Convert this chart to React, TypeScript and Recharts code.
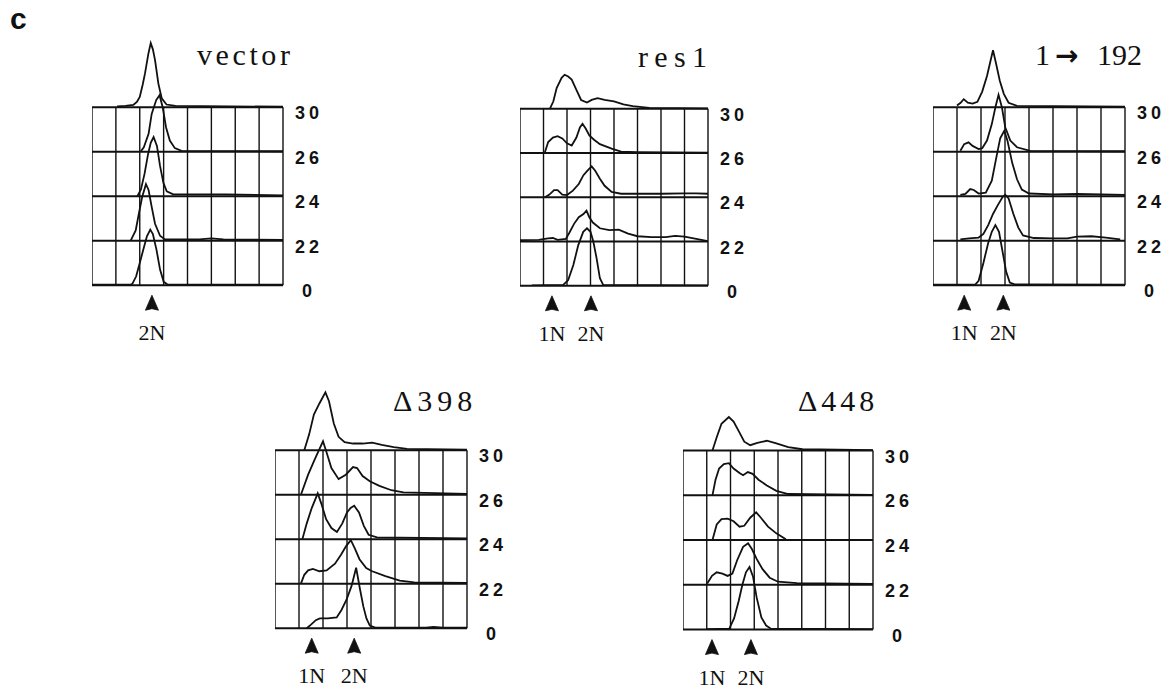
import { LineChart, Line, XAxis, YAxis, ReferenceLine } from "recharts";

// row labels (bottom to top) shared by every panel
const rowLabels = ["0", "22", "24", "26", "30"];
const rows = [0, 1, 2, 3, 4];
const columns = [0, 1, 2, 3, 4, 5, 6, 7, 8];

// traces: [channel in grid columns, height in grid rows], bottom trace first
const vector0 = [[0, 0.01], [1.6, 0.01], [1.69, 0.03], [1.85, 0.2], [2.0, 0.5], [2.15, 0.8], [2.3, 1.1], [2.44, 1.25], [2.55, 1.15], [2.7, 0.8], [2.85, 0.35], [3.0, 0.08], [3.15, 0.02], [8, 0.01]];
const vector1 = [[1.62, 0], [1.83, 0.23], [1.96, 0.6], [2.1, 0.98], [2.26, 1.27], [2.37, 1.14], [2.5, 0.76], [2.64, 0.38], [2.85, 0.11], [3.05, 0.03], [4.5, 0.03], [5.0, 0.05], [5.5, 0.03], [8, 0.02]];
const vector2 = [[1.9, 0], [2.05, 0.15], [2.2, 0.5], [2.35, 0.95], [2.46, 1.2], [2.58, 1.33], [2.72, 1.13], [2.85, 0.68], [2.99, 0.3], [3.13, 0.11], [3.4, 0.04], [5.6, 0.04], [8, 0.02]];
const vector3 = [[2.03, 0], [2.17, 0.1], [2.37, 0.4], [2.5, 0.85], [2.69, 1.16], [2.83, 1.27], [2.96, 1.0], [3.1, 0.55], [3.26, 0.25], [3.47, 0.08], [3.75, 0.02], [8, 0.01]];
const vector4 = [[1.05, 0.02], [1.4, 0.03], [1.73, 0.05], [1.88, 0.12], [2.0, 0.23], [2.12, 0.5], [2.22, 0.76], [2.36, 1.2], [2.46, 1.44], [2.55, 1.3], [2.64, 1.06], [2.78, 0.53], [2.92, 0.2], [3.12, 0.06], [3.5, 0.03], [8, 0.01]];

const res1_0 = [[0.5, 0.01], [1.84, 0.02], [2.05, 0.13], [2.27, 0.47], [2.48, 0.92], [2.69, 1.22], [2.85, 1.3], [3.0, 1.22], [3.12, 1.0], [3.26, 0.62], [3.4, 0.17], [3.54, 0.02], [8, 0.01]];
const res1_1 = [[0, 0.03], [0.8, 0.04], [1.2, 0.07], [1.4, 0.08], [1.6, 0.04], [1.95, 0.06], [2.1, 0.2], [2.3, 0.4], [2.5, 0.55], [2.7, 0.62], [2.83, 0.7], [2.95, 0.55], [3.1, 0.43], [3.4, 0.3], [3.8, 0.26], [4.2, 0.27], [4.6, 0.18], [5.0, 0.12], [5.6, 0.1], [6.2, 0.1], [6.6, 0.13], [7.0, 0.11], [7.5, 0.06], [8, 0.01]];
const res1_2 = [[1.06, 0], [1.25, 0.06], [1.45, 0.16], [1.6, 0.16], [1.8, 0.06], [2.0, 0.05], [2.25, 0.15], [2.5, 0.3], [2.7, 0.5], [2.9, 0.62], [3.05, 0.7], [3.2, 0.6], [3.4, 0.42], [3.6, 0.26], [3.9, 0.12], [4.3, 0.08], [5, 0.08], [6, 0.08], [7, 0.09], [7.5, 0.09], [8, 0.08]];
const res1_3 = [[1.06, 0.02], [1.2, 0.25], [1.4, 0.35], [1.6, 0.38], [1.8, 0.33], [2.0, 0.22], [2.2, 0.17], [2.4, 0.35], [2.55, 0.58], [2.66, 0.66], [2.8, 0.55], [2.95, 0.4], [3.15, 0.3], [3.4, 0.2], [3.9, 0.1], [4.3, 0.03], [5, 0.02], [8, 0.01]];
const res1_4 = [[1.27, 0], [1.42, 0.17], [1.56, 0.47], [1.77, 0.7], [1.9, 0.77], [2.05, 0.73], [2.2, 0.66], [2.4, 0.43], [2.6, 0.2], [2.85, 0.14], [3.05, 0.2], [3.3, 0.24], [3.6, 0.2], [4.0, 0.17], [4.4, 0.1], [4.8, 0.06], [5.5, 0.02], [8, 0.01]];

const r192_0 = [[0, 0.01], [1.75, 0.01], [1.9, 0.1], [2.1, 0.5], [2.3, 0.95], [2.45, 1.2], [2.6, 1.35], [2.75, 1.2], [2.9, 0.75], [3.05, 0.3], [3.2, 0.06], [3.4, 0.02], [8, 0.01]];
const r192_1 = [[1.14, 0.03], [1.5, 0.05], [1.9, 0.07], [2.1, 0.15], [2.3, 0.35], [2.5, 0.6], [2.7, 0.8], [2.9, 0.98], [3.01, 1.03], [3.15, 0.95], [3.35, 0.6], [3.55, 0.3], [3.75, 0.12], [4.2, 0.06], [5, 0.05], [5.6, 0.05], [6.0, 0.09], [6.6, 0.1], [7.2, 0.07], [7.8, 0.03]];
const r192_2 = [[1.14, 0.03], [1.35, 0.05], [1.55, 0.16], [1.7, 0.14], [1.9, 0.06], [2.2, 0.08], [2.45, 0.35], [2.65, 0.9], [2.8, 1.3], [2.97, 1.47], [3.1, 1.25], [3.3, 0.75], [3.5, 0.38], [3.7, 0.15], [4.0, 0.06], [5, 0.04], [6, 0.05], [8, 0.03]];
const r192_3 = [[1.14, 0.02], [1.3, 0.17], [1.48, 0.21], [1.65, 0.13], [1.9, 0.06], [2.05, 0.08], [2.25, 0.25], [2.45, 0.62], [2.6, 1.0], [2.73, 1.28], [2.87, 1.0], [3.01, 0.55], [3.22, 0.25], [3.5, 0.1], [4.05, 0.02], [8, 0.01]];
const r192_4 = [[1.0, 0.04], [1.15, 0.1], [1.28, 0.18], [1.45, 0.1], [1.65, 0.08], [1.85, 0.12], [2.05, 0.35], [2.25, 0.7], [2.4, 1.05], [2.5, 1.28], [2.62, 1.0], [2.78, 0.6], [2.95, 0.3], [3.15, 0.1], [3.5, 0.03], [8, 0.01]];

const d398_0 = [[1.32, 0], [1.5, 0.08], [1.7, 0.18], [1.87, 0.22], [2.2, 0.22], [2.57, 0.24], [2.77, 0.41], [2.98, 0.64], [3.19, 0.95], [3.38, 1.36], [3.54, 0.88], [3.68, 0.49], [3.81, 0.22], [3.95, 0.06], [4.2, 0.01], [6.3, 0.01], [6.6, 0.03], [7, 0.01], [8, 0.01]];
const d398_1 = [[1.08, 0], [1.22, 0.2], [1.38, 0.3], [1.58, 0.33], [1.85, 0.28], [2.15, 0.3], [2.5, 0.45], [2.75, 0.65], [2.97, 0.85], [3.16, 0.98], [3.32, 0.8], [3.52, 0.55], [3.8, 0.35], [4.05, 0.28], [4.6, 0.17], [5.2, 0.07], [5.8, 0.03], [8, 0.02]];
const d398_2 = [[1.14, 0], [1.32, 0.35], [1.53, 0.7], [1.78, 1.03], [1.93, 0.8], [2.13, 0.45], [2.35, 0.25], [2.58, 0.16], [2.8, 0.35], [3.0, 0.6], [3.15, 0.7], [3.3, 0.75], [3.5, 0.6], [3.7, 0.3], [3.9, 0.1], [4.25, 0.04], [8, 0.02]];
const d398_3 = [[1.08, 0], [1.38, 0.45], [1.66, 0.8], [2.0, 1.2], [2.15, 0.95], [2.35, 0.6], [2.65, 0.35], [2.95, 0.45], [3.25, 0.62], [3.42, 0.6], [3.65, 0.42], [3.95, 0.3], [4.35, 0.2], [4.85, 0.1], [5.35, 0.05], [8, 0.02]];
const d398_4 = [[1.22, 0], [1.42, 0.35], [1.62, 0.8], [1.85, 1.05], [2.1, 1.3], [2.25, 1.1], [2.45, 0.6], [2.65, 0.3], [2.9, 0.18], [3.25, 0.15], [3.65, 0.15], [4.05, 0.17], [4.45, 0.12], [4.95, 0.07], [5.5, 0.03], [8, 0.01]];

const d448_0 = [[1.0, 0.01], [1.95, 0.02], [2.15, 0.25], [2.35, 0.65], [2.5, 1.0], [2.65, 1.28], [2.8, 1.4], [2.95, 1.18], [3.1, 0.72], [3.3, 0.27], [3.5, 0.09], [3.7, 0.02], [8, 0.01]];
const d448_1 = [[1.02, 0.03], [1.22, 0.2], [1.42, 0.28], [1.66, 0.25], [1.88, 0.2], [2.08, 0.25], [2.28, 0.55], [2.53, 0.85], [2.74, 0.93], [2.9, 0.8], [3.1, 0.58], [3.35, 0.35], [3.65, 0.16], [4.0, 0.07], [4.8, 0.04], [8, 0.02]];
const d448_2 = [[1.24, 0], [1.42, 0.35], [1.62, 0.47], [1.88, 0.48], [2.13, 0.42], [2.38, 0.3], [2.58, 0.32], [2.83, 0.5], [3.08, 0.62], [3.28, 0.5], [3.58, 0.3], [3.93, 0.15], [4.33, 0.02]];
const d448_3 = [[1.24, 0], [1.37, 0.35], [1.52, 0.6], [1.72, 0.7], [1.93, 0.72], [2.13, 0.6], [2.38, 0.5], [2.53, 0.45], [2.73, 0.52], [2.93, 0.48], [3.18, 0.35], [3.53, 0.22], [3.93, 0.1], [4.43, 0.03], [8, 0.01]];
const d448_4 = [[1.24, 0], [1.42, 0.3], [1.62, 0.6], [1.93, 0.75], [2.13, 0.65], [2.38, 0.4], [2.58, 0.2], [2.83, 0.12], [3.13, 0.17], [3.53, 0.22], [3.93, 0.16], [4.43, 0.08], [5.03, 0.03], [8, 0.01]];

// 1N / 2N marker positions (grid columns) and their labels
const vectorMarks = [2.51];
const res1Marks = [1.36, 3.02];
const r192Marks = [1.3, 2.93];
const d398Marks = [1.53, 3.3];
const d448Marks = [1.22, 2.86];
const twoLabels = ["1N", "2N"];
const oneLabel = ["2N"];

const YMAX = 5.6;
const AXIS_W = 45;
const XAXIS_H = 65;
const INK = "#111";

const panels = [
  { key: "vector", left: 92, right: 283, top: 107, bottom: 285, traces: [vector0, vector1, vector2, vector3, vector4], marks: vectorMarks, markLabels: oneLabel },
  { key: "res1", left: 520, right: 708, top: 109, bottom: 286, traces: [res1_0, res1_1, res1_2, res1_3, res1_4], marks: res1Marks, markLabels: twoLabels },
  { key: "r192", left: 933, right: 1125, top: 107, bottom: 285, traces: [r192_0, r192_1, r192_2, r192_3, r192_4], marks: r192Marks, markLabels: twoLabels },
  { key: "d398", left: 275, right: 467, top: 450, bottom: 628, traces: [d398_0, d398_1, d398_2, d398_3, d398_4], marks: d398Marks, markLabels: twoLabels },
  { key: "d448", left: 683, right: 873, top: 451, bottom: 630, traces: [d448_0, d448_1, d448_2, d448_3, d448_4], marks: d448Marks, markLabels: twoLabels },
];

function Panel({ p }: { p: any }) {
  const rowH = (p.bottom - p.top) / 4;
  const plotH = YMAX * rowH;
  const w = p.right - p.left;

  const markTick = (props: any) => {
    const { x, y, index } = props;
    return (
      <g>
        <path
          d={`M${x},${y + 10} L${x + 6.5},${y + 25} L${x},${y + 23.5} L${x - 6.5},${y + 25} Z`}
          fill={INK}
          stroke={INK}
          strokeWidth={0.8}
        />
        <text
          x={x}
          y={y + 55}
          textAnchor="middle"
          fontFamily="'Liberation Serif', serif"
          fontSize={22}
          fill={INK}
        >
          {p.markLabels[index]}
        </text>
      </g>
    );
  };

  const rowTick = (props: any) => {
    const { x, y, payload } = props;
    return (
      <text
        x={x + 26}
        y={y + 12}
        textAnchor="middle"
        fontFamily="'Liberation Sans', Arial, sans-serif"
        fontWeight="bold"
        fontSize={18}
        letterSpacing={4}
        fill={INK}
      >
        {rowLabels[payload.value]}
      </text>
    );
  };

  return (
    <div style={{ position: "absolute", left: p.left, top: p.bottom - plotH }}>
      <LineChart
        width={w + AXIS_W}
        height={plotH + XAXIS_H}
        margin={{ top: 0, right: 0, bottom: 0, left: 0 }}
      >
        <XAxis
          type="number"
          dataKey="x"
          domain={[0, 8]}
          allowDataOverflow
          ticks={p.marks}
          interval={0}
          axisLine={false}
          tickLine={false}
          tickSize={0}
          tickMargin={0}
          height={XAXIS_H}
          tick={markTick}
        />
        <YAxis
          type="number"
          orientation="right"
          domain={[0, YMAX]}
          allowDataOverflow
          ticks={rows}
          interval={0}
          width={AXIS_W}
          axisLine={false}
          tickLine={false}
          tickSize={0}
          tickMargin={0}
          tick={rowTick}
        />
        {rows.map((r) => (
          <ReferenceLine key={"h" + r} y={r} stroke={INK} strokeWidth={2} />
        ))}
        {columns.map((c) => (
          <ReferenceLine
            key={"v" + c}
            segment={[{ x: c, y: 0 }, { x: c, y: 4 }]}
            stroke={INK}
            strokeWidth={1.4}
          />
        ))}
        {p.traces.map((t: number[][], k: number) => (
          <Line
            key={k}
            data={t.map(([x, h]) => ({ x, y: k + h }))}
            dataKey="y"
            type="linear"
            dot={false}
            stroke={INK}
            strokeWidth={1.8}
            isAnimationActive={false}
          />
        ))}
      </LineChart>
    </div>
  );
}

export default function App() {
  const serif = "'Liberation Serif', 'Times New Roman', serif";
  return (
    <div
      style={{
        position: "absolute",
        left: 0,
        top: 0,
        width: 1172,
        height: 694,
        background: "#fff",
        overflow: "hidden",
      }}
    >
      {panels.map((p) => (
        <Panel key={p.key} p={p} />
      ))}
      <svg
        width={1172}
        height={694}
        style={{ position: "absolute", left: 0, top: 0, pointerEvents: "none" }}
      >
        <text x={10} y={29} fontFamily="'Liberation Sans', Arial, sans-serif" fontWeight="bold" fontSize={30} fill={INK}>
          c
        </text>
        <text x={197} y={65} fontFamily={serif} fontSize={30} letterSpacing={3.6} fill={INK}>
          vector
        </text>
        <text x={638} y={67} fontFamily={serif} fontSize={30} letterSpacing={6.3} fill={INK}>
          res1
        </text>
        <text x={1035} y={65} fontFamily={serif} fontSize={30} fill={INK}>
          1
          <tspan x={1055} fontFamily="'DejaVu Sans', sans-serif" fontWeight="bold" fontSize={28}>
            →
          </tspan>
          <tspan x={1097}>192</tspan>
        </text>
        <text x={393} y={411} fontFamily={serif} fontSize={30} letterSpacing={5} fill={INK}>
          Δ398
        </text>
        <text x={798} y={411} fontFamily={serif} fontSize={30} letterSpacing={4} fill={INK}>
          Δ448
        </text>
      </svg>
    </div>
  );
}
